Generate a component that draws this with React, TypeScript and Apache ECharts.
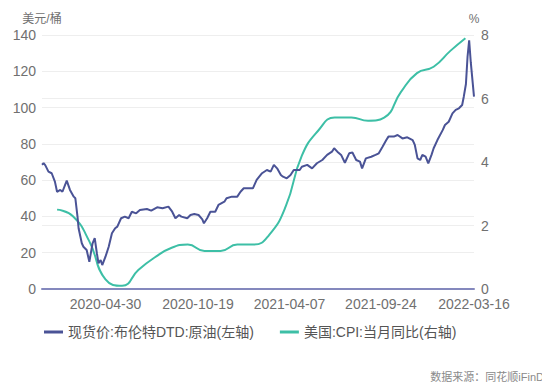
import React, { useEffect, useRef } from "react";
import * as echarts from "echarts";

const oilDates = [
  "2020-01-03","2020-01-06","2020-01-09","2020-01-15","2020-01-21","2020-01-27","2020-01-31","2020-02-06","2020-02-10","2020-02-18",
  "2020-02-24","2020-03-02","2020-03-05","2020-03-09","2020-03-11","2020-03-17","2020-03-20","2020-03-26","2020-03-31","2020-04-06",
  "2020-04-10","2020-04-14","2020-04-17","2020-04-21","2020-04-24","2020-04-30","2020-05-06","2020-05-12","2020-05-18","2020-05-22",
  "2020-05-29","2020-06-05","2020-06-12","2020-06-18","2020-06-26","2020-07-03","2020-07-16","2020-07-24","2020-08-04","2020-08-14",
  "2020-08-25","2020-09-01","2020-09-07","2020-09-14","2020-09-18","2020-09-29","2020-10-05","2020-10-12","2020-10-20","2020-10-27",
  "2020-10-30","2020-11-05","2020-11-11","2020-11-20","2020-11-26","2020-12-07","2020-12-11","2020-12-21","2020-12-31","2021-01-06",
  "2021-01-12","2021-01-21","2021-01-29","2021-02-05","2021-02-15","2021-02-24","2021-03-03","2021-03-09","2021-03-15","2021-03-22",
  "2021-03-26","2021-04-02","2021-04-09","2021-04-15","2021-04-26","2021-04-30","2021-05-10","2021-05-19","2021-05-28","2021-06-07",
  "2021-06-16","2021-06-25","2021-06-29","2021-07-05","2021-07-12","2021-07-19","2021-07-27","2021-08-02","2021-08-09","2021-08-16",
  "2021-08-20","2021-08-27","2021-09-06","2021-09-14","2021-09-20","2021-09-27","2021-10-04","2021-10-08","2021-10-18","2021-10-25",
  "2021-11-03","2021-11-12","2021-11-22","2021-11-26","2021-12-01","2021-12-06","2021-12-10","2021-12-16","2021-12-21","2021-12-27",
  "2021-12-31","2022-01-07","2022-01-17","2022-01-21","2022-01-28","2022-02-04","2022-02-10","2022-02-16","2022-02-22","2022-02-25",
  "2022-03-01","2022-03-04","2022-03-07","2022-03-10","2022-03-16"
];
const oilPrices = [
  68.5,69.3,68.3,64.7,63.8,59.2,53.6,54.6,53.6,59.7,
  54.6,50.9,50.0,39.9,33.5,25.2,23.3,21.5,15.0,25.2,
  28.0,19.7,14.2,16.0,13.2,17.8,23.3,30.7,33.5,34.4,
  39.0,39.9,39.0,42.6,41.7,43.5,44.1,43.2,45.0,44.5,
  45.4,42.6,39.0,40.8,39.9,39.0,40.8,41.3,40.8,38.4,
  36.2,39.0,42.6,42.6,46.3,48.1,50.0,50.9,50.9,53.6,
  55.5,55.5,55.5,60.1,63.8,65.6,64.7,68.4,66.5,62.8,
  61.9,61.0,62.8,65.6,65.6,67.4,68.4,66.5,69.3,71.1,
  73.9,75.7,77.6,75.7,73.9,69.6,74.8,75.2,71.1,70.2,
  66.5,72.0,72.9,73.9,74.8,78.4,82.1,84.0,84.0,84.9,
  83.0,83.6,82.1,79.4,72.0,71.1,73.9,72.9,69.3,73.9,
  77.6,82.1,87.7,90.4,92.2,96.8,98.7,99.6,101.4,106.0,
  113.0,128.0,137.0,125.0,106.0
];

const cpiDates = [
  "2020-01-31","2020-02-29","2020-03-31","2020-04-30","2020-05-31","2020-06-30","2020-07-31","2020-08-31","2020-09-30","2020-10-31",
  "2020-11-30","2020-12-31","2021-01-31","2021-02-28","2021-03-31","2021-04-30","2021-05-31","2021-06-30","2021-07-31","2021-08-31",
  "2021-09-30","2021-10-31","2021-11-30","2021-12-31","2022-01-31","2022-02-28"
];
const cpiValues = [
  2.5,2.3,1.5,0.3,0.1,0.6,1.0,1.3,1.4,1.2,
  1.2,1.4,1.4,1.7,2.6,4.2,5.0,5.4,5.4,5.3,
  5.4,6.2,6.8,7.0,7.5,7.9
];

const xLabelDates = ["2020-04-30", "2020-10-19", "2021-04-07", "2021-09-24", "2022-03-16"];
const leftTicks = [0, 20, 40, 60, 80, 100, 120, 140];
const rightTicks = [0, 2, 4, 6, 8];

const seriesNames = ["现货价:布伦特DTD:原油(左轴)", "美国:CPI:当月同比(右轴)"];
const FONT = "'Liberation Sans', 'Noto Sans CJK SC', sans-serif";
const DAY = 86400000;

function ts(d: string) {
  const [y, m, day] = d.split("-").map(Number);
  return Date.UTC(y, m - 1, day);
}
function fmt(v: number) {
  const d = new Date(Math.round(v / DAY) * DAY);
  const p = (n: number) => (n < 10 ? "0" + n : "" + n);
  return d.getUTCFullYear() + "-" + p(d.getUTCMonth() + 1) + "-" + p(d.getUTCDate());
}

export default function App() {
  const ref = useRef<HTMLDivElement>(null);
  useEffect(() => {
    if (!ref.current) return;
    const chart = echarts.init(ref.current, undefined, { renderer: "svg" });
    chart.setOption({
      animation: false,
      textStyle: { fontFamily: FONT },
      grid: { left: 42, right: 76, top: 35, bottom: 101, containLabel: false },
      legend: {
        left: 39,
        top: 320,
        icon: "rect",
        itemWidth: 19,
        itemHeight: 3,
        itemGap: 26,
        textStyle: { fontSize: 14, color: "#555", fontFamily: FONT },
        data: seriesNames,
      },
      graphic: [
        {
          type: "text",
          right: 6,
          top: 371,
          style: { text: "数据来源：同花顺iFinD", fontSize: 11, fill: "#8a8a8a", fontFamily: FONT },
        },
      ],
      xAxis: {
        type: "value",
        min: ts(oilDates[0]),
        max: ts(oilDates[oilDates.length - 1]),
        axisLine: { onZero: false, lineStyle: { color: "#8488bd", width: 2 } },
        axisTick: { show: false },
        splitLine: { show: false },
        axisLabel: {
          customValues: xLabelDates.map(ts),
          formatter: (v: number) => fmt(v),
          fontSize: 14,
          color: "#707070",
          margin: 8,
          showMinLabel: true,
          showMaxLabel: true,
        },
      },
      yAxis: [
        {
          type: "value",
          min: leftTicks[0],
          max: leftTicks[leftTicks.length - 1],
          interval: 20,
          name: "美元/桶",
          nameLocation: "end",
          nameGap: 10,
          nameTextStyle: { fontSize: 12, color: "#707070", align: "center" },
          axisLine: { show: false },
          axisTick: { show: false },
          axisLabel: { fontSize: 14, color: "#707070", margin: 6 },
          splitLine: { lineStyle: { color: "#eeeeee", width: 1 } },
        },
        {
          type: "value",
          min: rightTicks[0],
          max: rightTicks[rightTicks.length - 1],
          interval: 2,
          name: "%",
          nameLocation: "end",
          nameGap: 10,
          nameTextStyle: { fontSize: 12, color: "#707070", align: "center" },
          axisLine: { show: false },
          axisTick: { show: false },
          axisLabel: { fontSize: 14, color: "#707070", margin: 7 },
          splitLine: { lineStyle: { color: "#eeeeee", width: 1 } },
        },
      ],
      series: [
        {
          name: seriesNames[0],
          type: "line",
          yAxisIndex: 0,
          showSymbol: false,
          symbol: "none",
          lineStyle: { color: "#4a5396", width: 2 },
          itemStyle: { color: "#4a5396" },
          data: oilDates.map((d, i) => [ts(d), oilPrices[i]]),
          z: 3,
        },
        {
          name: seriesNames[1],
          type: "line",
          yAxisIndex: 1,
          showSymbol: false,
          symbol: "none",
          smooth: 0.5,
          lineStyle: { color: "#3dbfa6", width: 2 },
          itemStyle: { color: "#3dbfa6" },
          data: cpiDates.map((d, i) => [ts(d), cpiValues[i]]),
          z: 2,
        },
      ],
    });
    return () => chart.dispose();
  }, []);
  return <div ref={ref} style={{ width: 550, height: 390, margin: -8 }} />;
}
